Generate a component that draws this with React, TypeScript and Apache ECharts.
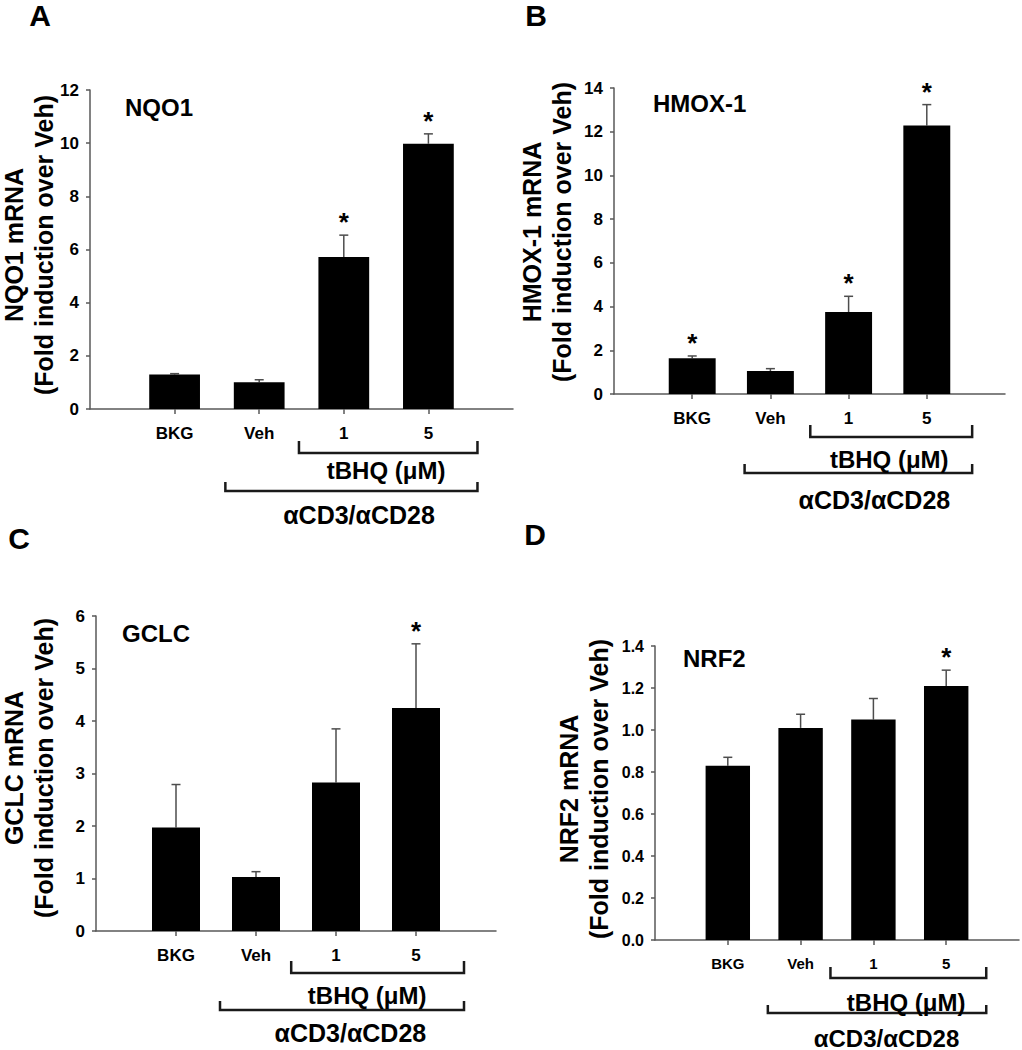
import React, { useEffect, useRef } from 'react';
import * as echarts from 'echarts';

// ---- data ----
const categories = ['', 'BKG', 'Veh', '1', '5', ''];
const panelLetters = ['A', 'B', 'C', 'D'];
const geneNames = ['NQO1', 'HMOX-1', 'GCLC', 'NRF2'];
const yAxisTitles = [
  'NQO1 mRNA\n(Fold induction over Veh)',
  'HMOX-1 mRNA\n(Fold induction over Veh)',
  'GCLC mRNA\n(Fold induction over Veh)',
  'NRF2 mRNA\n(Fold induction over Veh)',
];
const groupLabelInner = 'tBHQ (μM)';
const groupLabelOuter = 'αCD3/αCD28';

const nqo1Mean = [1.3, 1.01, 5.72, 9.98];
const nqo1Err = [0.03, 0.09, 0.82, 0.37];
const nqo1Sig = [false, false, true, true];

const hmox1Mean = [1.63, 1.05, 3.75, 12.29];
const hmox1Err = [0.11, 0.11, 0.72, 0.95];
const hmox1Sig = [true, false, true, true];

const gclcMean = [1.97, 1.03, 2.83, 4.25];
const gclcErr = [0.82, 0.1, 1.02, 1.22];
const gclcSig = [false, false, false, true];

const nrf2Mean = [0.83, 1.01, 1.05, 1.21];
const nrf2Err = [0.04, 0.065, 0.1, 0.075];
const nrf2Sig = [false, false, false, true];

const yMaxes = [12, 14, 6, 1.4];
const yIntervals = [2, 2, 1, 0.2];
const yDecimals = [0, 0, 0, 1];

const means = [nqo1Mean, hmox1Mean, gclcMean, nrf2Mean];
const errs = [nqo1Err, hmox1Err, gclcErr, nrf2Err];
const sigs = [nqo1Sig, hmox1Sig, gclcSig, nrf2Sig];

// ---- layout / style ----
const FONT = 'Liberation Sans, Arial, Helvetica, sans-serif';
const grids = [
  { left: 90, top: 90, width: 423, height: 319 },
  { left: 614, top: 88, width: 391, height: 306 },
  { left: 96, top: 616, width: 400, height: 315 },
  { left: 655, top: 646, width: 365, height: 294 },
];
// [x, y, verticalAlign]
const letterPos: any[] = [
  [40, 0, 'top'],
  [536, 0, 'top'],
  [19, 538, 'middle'],
  [535, 534, 'middle'],
];
const titlePos = [
  [125, 107],
  [653, 103],
  [122, 633],
  [683, 658],
];
const yTitlePos = [
  [29, 245],
  [547, 232],
  [29, 768],
  [584, 789],
];
const tickFont = [17, 17, 17, 16];
const catFont = [17, 17, 17, 15];
// offsets below x axis: [bracket1 y, bracket1 height, bracket2 y, bracket2 height, inner label y, outer label y]
const bracketOffsets = [
  [44, 12, 82, 9, 61, 106],
  [43, 12, 79, 9, 65, 106],
  [42, 12, 79, 9, 64, 102],
  [38, 11, 73, 8, 62, 98],
];
// fractional category positions: [b1 start, b1 end, b2 start, inner label x, outer label x]
const bracketSpans = [
  [2.47, 4.58, 1.6, 3.5, 3.18],
  [2.51, 4.58, 1.67, 3.52, 3.33],
  [2.44, 4.6, 1.55, 3.39, 3.18],
  [2.41, 4.55, 1.55, 3.45, 3.18],
];
const outerFont = [25, 25, 25, 24];

function buildOption() {
  const xAxis: any[] = [];
  const yAxis: any[] = [];
  const series: any[] = [];
  for (let i = 0; i < 4; i++) {
    xAxis.push({
      type: 'category',
      gridIndex: i,
      data: categories,
      boundaryGap: false,
      axisLine: { lineStyle: { color: '#595959', width: 1.5 } },
      axisTick: {
        length: 5,
        lineStyle: { color: '#595959', width: 1.5 },
        interval: (idx: number) => idx >= 1 && idx <= 4,
      },
      axisLabel: {
        interval: 0,
        margin: 16,
        color: '#000',
        fontFamily: FONT,
        fontWeight: 'bold',
        fontSize: catFont[i],
      },
      splitLine: { show: false },
    });
    yAxis.push({
      type: 'value',
      gridIndex: i,
      min: 0,
      max: yMaxes[i],
      interval: yIntervals[i],
      axisLine: { show: true, lineStyle: { color: '#595959', width: 1.5 } },
      axisTick: { show: true, length: 4, lineStyle: { color: '#595959', width: 1.5 } },
      axisLabel: {
        margin: 11,
        color: '#000',
        fontFamily: FONT,
        fontWeight: 'bold',
        fontSize: tickFont[i],
        formatter: (v: number) => v.toFixed(yDecimals[i]),
      },
      splitLine: { show: false },
    });
    series.push({
      type: 'bar',
      name: geneNames[i],
      xAxisIndex: i,
      yAxisIndex: i,
      barWidth: i === 3 ? '61%' : '60%',
      itemStyle: { color: '#000' },
      data: means[i].map((m, k) => [k + 1, m]),
    });
    series.push({
      type: 'custom',
      name: geneNames[i] + ' SEM',
      xAxisIndex: i,
      yAxisIndex: i,
      encode: { x: 0, y: 2 },
      data: means[i].map((m, k) => [k + 1, m, m + errs[i][k], sigs[i][k] ? 1 : 0]),
      renderItem: (params: any, api: any) => {
        const idx = api.value(0);
        const p0 = api.coord([idx, api.value(1)]);
        const p1 = api.coord([idx, api.value(2)]);
        const children: any[] = [
          {
            type: 'line',
            shape: { x1: p0[0], y1: p0[1], x2: p1[0], y2: p1[1] },
            style: { stroke: '#4d4d4d', lineWidth: 1.5 },
          },
          {
            type: 'line',
            shape: { x1: p1[0] - 4.5, y1: p1[1], x2: p1[0] + 4.5, y2: p1[1] },
            style: { stroke: '#4d4d4d', lineWidth: 1.5 },
          },
        ];
        if (api.value(3) === 1) {
          children.push({
            type: 'text',
            x: p1[0],
            y: p1[1] - 13,
            style: {
              text: '*',
              fill: '#000',
              fontFamily: FONT,
              fontWeight: 'bold',
              fontSize: 26,
              textAlign: 'center',
              textVerticalAlign: 'middle',
            },
          });
        }
        return { type: 'group', children };
      },
    });
  }
  return {
    animation: false,
    backgroundColor: '#fff',
    grid: grids.map((g) => ({ ...g, containLabel: false })),
    xAxis,
    yAxis,
    series,
  };
}

function buildGraphic(chart: any) {
  const g: any[] = [];
  const textStyle = (text: string, size: number, align = 'center', valign = 'middle') => ({
    text,
    fill: '#000',
    fontFamily: FONT,
    fontWeight: 'bold',
    fontSize: size,
    textAlign: align,
    textVerticalAlign: valign,
  });
  for (let i = 0; i < 4; i++) {
    g.push({
      type: 'text',
      x: letterPos[i][0],
      y: letterPos[i][1],
      style: textStyle(panelLetters[i], 30, 'center', letterPos[i][2]),
    });
    g.push({ type: 'text', x: titlePos[i][0], y: titlePos[i][1], style: textStyle(geneNames[i], 24, 'left') });
    g.push({
      type: 'text',
      x: yTitlePos[i][0],
      y: yTitlePos[i][1],
      rotation: Math.PI / 2,
      style: { ...textStyle(yAxisTitles[i], 25), lineHeight: 30 },
    });
    const a = chart.convertToPixel({ xAxisIndex: i }, 1);
    const b = chart.convertToPixel({ xAxisIndex: i }, 2);
    const px = (v: number) => a + (v - 1) * (b - a);
    const base = chart.convertToPixel({ yAxisIndex: i }, 0);
    const [b1y, b1h, b2y, b2h, l1y, l2y] = bracketOffsets[i];
    const [s1, e1, s2, l1x, l2x] = bracketSpans[i];
    const stroke = { stroke: '#1a1a1a', lineWidth: 2.5, fill: 'none' };
    g.push({
      type: 'polyline',
      shape: { points: [[px(s1), base + b1y - b1h], [px(s1), base + b1y], [px(e1), base + b1y], [px(e1), base + b1y - b1h]] },
      style: stroke,
    });
    g.push({
      type: 'polyline',
      shape: { points: [[px(s2), base + b2y - b2h], [px(s2), base + b2y], [px(e1), base + b2y], [px(e1), base + b2y - b2h]] },
      style: stroke,
    });
    g.push({ type: 'text', x: px(l1x), y: base + l1y, style: textStyle(groupLabelInner, 24) });
    g.push({ type: 'text', x: px(l2x), y: base + l2y, style: textStyle(groupLabelOuter, outerFont[i]) });
  }
  return g;
}

export default function App() {
  const ref = useRef<HTMLDivElement>(null);
  useEffect(() => {
    document.body.style.margin = '0';
    if (!ref.current) return;
    const chart = echarts.init(ref.current, undefined, { renderer: 'svg' });
    chart.setOption(buildOption());
    chart.setOption({ graphic: buildGraphic(chart) });
    return () => chart.dispose();
  }, []);
  return <div ref={ref} style={{ position: 'absolute', left: 0, top: 0, width: 1022, height: 1050 }} />;
}
